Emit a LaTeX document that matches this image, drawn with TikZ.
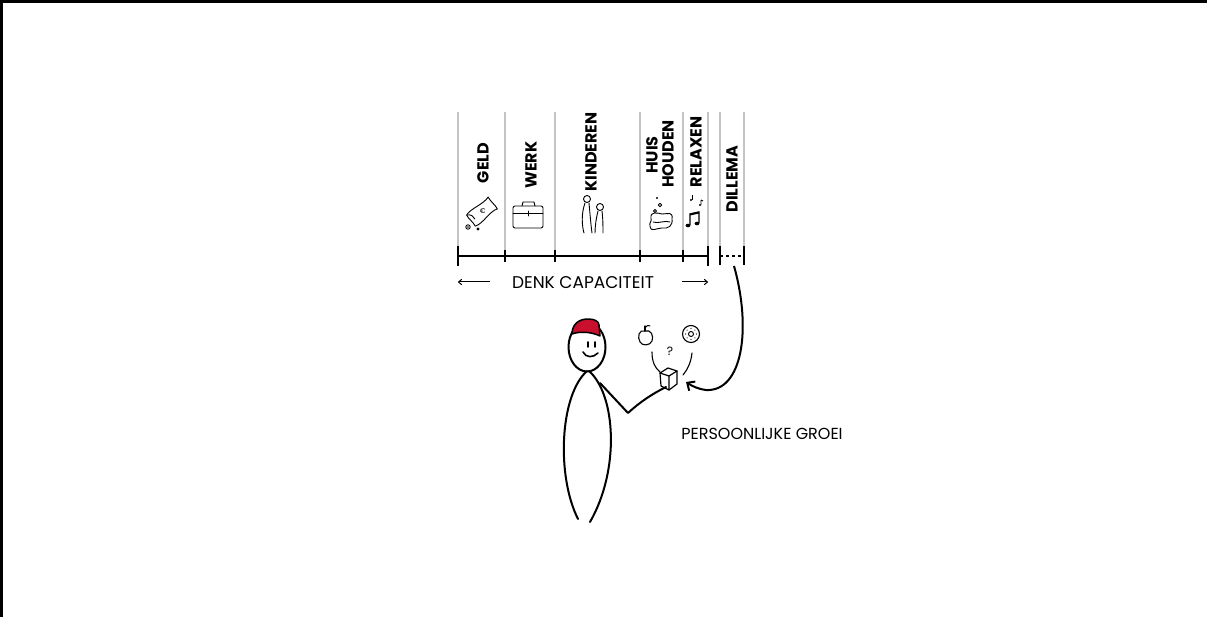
\documentclass[tikz,border=0pt]{standalone}
\usepackage{fontspec}
\newfontfamily\hand{Poppins}
\usetikzlibrary{arrows.meta,calc}
\definecolor{railgray}{HTML}{C4C4C4}
\definecolor{capred}{HTML}{C8102E}

\begin{document}
\begin{tikzpicture}[x=1pt,y=-1pt,
  rail/.style={draw=railgray,line width=2pt},
  axis/.style={line width=2.6pt},
  minortick/.style={line width=1.4pt},
  majortick/.style={line width=2.6pt},
  slottick/.style={line width=1.8pt},
  lbl/.style={font=\hand\bfseries\fontsize{16}{16.5}\selectfont, rotate=90, inner sep=0pt},
  caption/.style={font=\hand\fontsize{17}{18}\selectfont, inner sep=0pt},
  icon/.style={line width=0.9pt, line cap=round, line join=round},
  ink/.style={line width=2pt, line cap=round, line join=round},
  thin/.style={line width=1pt, -{To[length=4pt,width=6pt]}},
]
\useasboundingbox (0,0) rectangle (1207,617);
\fill[white] (0,0) rectangle (1207,617);
% frame edges
\draw[line width=3pt] (0,1.5) -- (1207,1.5);
\draw[line width=3pt] (1.5,0) -- (1.5,617);

% rails of the capacity bar
\foreach \x/\n in {458/a,505/b,555/c,640/d,683/e,708/f,720/g,744/h}{
  \coordinate (t\n) at (\x,112);
  \coordinate (b\n) at (\x,256);
  \draw[rail] (t\n) -- (b\n);
}
\draw[axis] (ba) -- (bf);
\foreach \n in {a,f} \draw[majortick] ([yshift=-10pt]b\n) -- ([yshift=10pt]b\n);
\foreach \n in {b,c,d,e} \draw[minortick] ([yshift=-6pt]b\n) -- ([yshift=6pt]b\n);
\foreach \n in {g,h} \draw[slottick] ([yshift=-9pt]b\n) -- ([yshift=10pt]b\n);
\draw[line width=1.2pt, dash pattern=on 3pt off 3pt] (bg) -- (bh);

% column labels
\node[lbl] (geld) at (483,163) {GELD};
\node[lbl] (werk) at (531,165) {WERK};
\node[lbl] (kind) at (591,152) {KINDEREN};
\node[lbl] (huis) at (652,155) {HUIS};
\node[lbl] (houden) at (668,154) {HOUDEN};
\node[lbl] (relax) at (696,152) {RELAXEN};
\node[lbl] (dilemma) at (732,179) {DILLEMA};

% money
\begin{scope}[shift={(482,212)},rotate=38]
  \draw[icon] (-14,-7) .. controls (-7,-10) and (6,-5) .. (14,-8) .. controls (13,-3) and (15,3) .. (14,7)
    .. controls (6,4) and (-6,10) .. (-14,7) .. controls (-13,2) and (-15,-3) .. (-14,-7);
  \draw[icon] (-14,-7) .. controls (-10,-5) and (-9,-2) .. (-10,1);
  \node[font=\hand\fontsize{7}{7}\selectfont, inner sep=0pt] at (1,0) {€};
\end{scope}
\draw[icon] (468,227) circle (2.2);
\fill (468,227) circle (0.9);
\fill (478,229) circle (1.7);

% briefcase
\draw[icon, rounded corners=2pt] (513,206) rectangle (543,228);
\draw[icon] (522,206) -- (523,202) -- (534,202) -- (535,206);
\draw[icon] (513,213) -- (543,213);
\draw[icon] (528,211) -- (528,216);

% children
\draw[icon] (587,199) circle (3.5);
\draw[icon] (585,203) .. controls (581,214) and (582,226) .. (584,233);
\draw[icon] (589,203) .. controls (590,214) and (591,226) .. (592,233);
\draw[icon] (600,207) circle (3.5);
\draw[icon] (598,211) .. controls (596,219) and (595,227) .. (595,233);
\draw[icon] (602,211) .. controls (603,219) and (603,227) .. (603,233);

% sponge and bubbles
\draw[icon] (651,218) .. controls (650,211) and (658,213) .. (662,214) .. controls (668,214) and (673,211) .. (672,219) .. controls (673,226) and (668,229) .. (662,228) .. controls (656,228) and (651,233) .. (650,226) .. controls (649,222) and (652,222) .. (651,218);
\draw[icon] (653,222) .. controls (658,224) and (665,220) .. (670,222);
\fill (657,198) circle (1.2);
\draw[icon] (660,205) circle (1.8);
\draw[icon] (655,211) circle (1.6);

% music notes
\draw[line width=1.2pt] (690,225) -- (690,214) -- (699,212) -- (699,223);
\draw[line width=2pt] (690,214.5) -- (699,212.5);
\fill (688,225.5) ellipse (2.4 and 1.8);
\fill (697,223.5) ellipse (2.4 and 1.8);
\draw[line width=0.9pt] (692,195) -- (692,200);
\fill (691,200) circle (1.2);
\draw[line width=0.9pt] (701,200) -- (701,205) (701,200) -- (703,201);
\fill (700,205) circle (1.2);

% capacity arrows and caption
\node[caption] (denk) at (583,283) {DENK CAPACITEIT};
\coordinate (lA) at (490,282); \coordinate (lB) at (458,282);
\coordinate (rA) at (682,282); \coordinate (rB) at (708,282);
\draw[thin] (lA) -- (lB);
\draw[thin] (rA) -- (rB);

% the person
\draw[ink] (587,347) ellipse (18.5 and 24.5);
\filldraw[fill=capred, draw=black, line width=1.5pt, line join=round]
  (572,334) .. controls (572,325) and (578,319) .. (588,319)
  .. controls (594,319) and (599,321) .. (599,325) -- (600,336)
  .. controls (592,332) and (580,331) .. cycle;
\draw[line width=1.6pt, line cap=round] (588,342) -- (588,347);
\draw[line width=1.6pt, line cap=round] (595,342) -- (595,347);
\draw[line width=1.6pt, line cap=round] (583,352) .. controls (586,358) and (593,358) .. (598,353);
\draw[ink] (587,371) .. controls (560,395) and (556,475) .. (578,519);
\draw[ink] (589,371) .. controls (616,395) and (620,470) .. (590,522);
\draw[ink] (600,383) -- (628,413) .. controls (640,402) and (652,394) .. (666,387);

% cube in hand
\coordinate (cube) at (669,380);
\draw[icon, line width=1.2pt] (660,373) -- (668,368) -- (677,371) -- (669,376) -- cycle;
\draw[icon, line width=1.2pt] (660,373) -- (661,386) -- (669,390) -- (669,376);
\draw[icon, line width=1.2pt] (669,390) -- (677,384) -- (677,371);

% choices
\draw[icon, line width=1.1pt] (645,331) .. controls (639,329) and (637,337) .. (640,342) .. controls (642,346) and (650,346) .. (652,341) .. controls (654,336) and (651,329) .. (645,331);
\draw[icon, line width=1.1pt] (645,331) -- (645,326);
\draw[icon, line width=1pt] (645,328) .. controls (647,325) and (649,325) .. (650,326);
\draw[icon, line width=1.1pt] (691,334) circle (8.5);
\draw[icon] (691,334) circle (2.5);
\foreach \a in {0,45,...,315} \fill ($(691,334)+(\a:5.5)$) circle (0.55);
\node[font=\hand\fontsize{12}{12}\selectfont, inner sep=0pt] (q) at (670,351) {?};
\draw[icon, line width=1.1pt] (652,352) .. controls (652,362) and (655,368) .. (660,372);
\draw[icon, line width=1.1pt] (692,353) .. controls (691,362) and (688,369) .. (683,375);

% arrow from the dilemma slot to the cube
\coordinate (slot) at (734,266);
\coordinate (tip) at (686,382);
\draw[line width=2pt, -{Straight Barb[length=6pt,width=11pt]}]
  (slot) .. controls (752,330) and (742,392) .. (706,390) .. controls (698,389) and (692,386) .. (tip);

\node[caption, font=\hand\fontsize{16}{17}\selectfont] (growth) at (762,434) {PERSOONLIJKE GROEI};
\end{tikzpicture}
\end{document}
